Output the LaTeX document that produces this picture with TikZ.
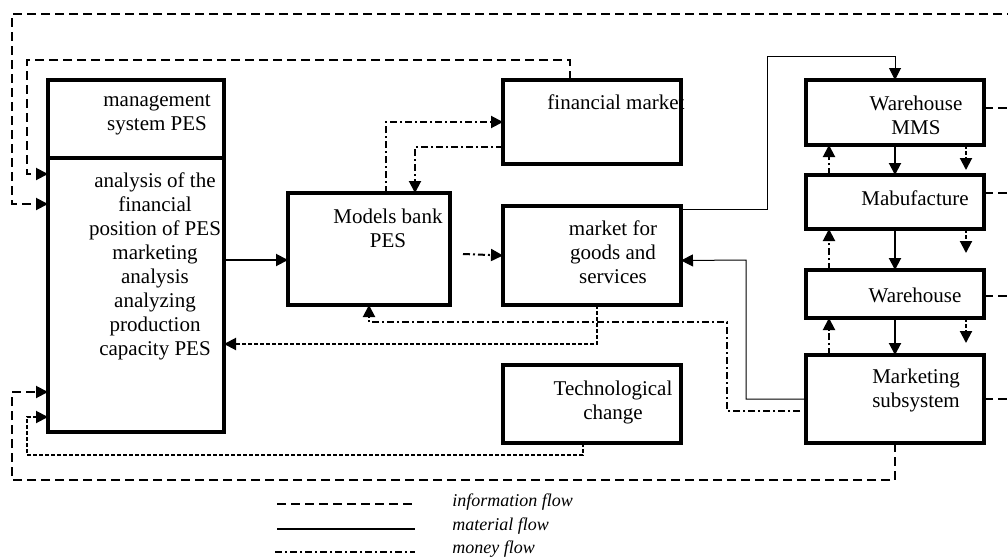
\documentclass[tikz,border=0pt]{standalone}
\usepackage{fontspec}
\setmainfont{Liberation Serif}
\usetikzlibrary{positioning,arrows.meta,calc}

\begin{document}
\begin{tikzpicture}[x=0.5pt, y=-0.5pt, node distance=15pt,
  box/.style={draw, line width=1.7pt, minimum width=89pt, anchor=north west, inner sep=0pt, outer sep=0pt},
  txt/.style={align=center, inner sep=0pt, font=\fontsize{10.5pt}{12pt}\selectfont},
  legtxt/.style={anchor=west, inner sep=0pt, font=\fontsize{9pt}{11pt}\selectfont\itshape},
  info/.style={line width=1pt, dash pattern=on 4.5pt off 2.5pt},
  infofine/.style={line width=1pt, dash pattern=on 2pt off 1pt},
  money/.style={line width=1pt, dash pattern=on 3.5pt off 1.5pt on 1pt off 1.5pt},
  mat/.style={line width=1pt},
  matthin/.style={line width=0.5pt},
  >={Triangle[length=6pt, width=6pt]}]
\useasboundingbox (0,0) rectangle (1008,558);
\node[box, minimum width=88pt, minimum height=39pt] (mgmt) at (48,80) {};
\node[box, minimum width=88pt, minimum height=137pt, below=0pt of mgmt] (anal) {};
\node[box, minimum width=81pt, minimum height=56pt] (bank) at (288,193) {};
\node[box, minimum height=42pt] (fin) at (503,80) {};
\node[box, minimum height=49.5pt] (goods) at (503,206) {};
\node[box, minimum height=39pt] (tech) at (503,365) {};
\node[box, minimum height=32.5pt] (whm) at (806,80) {};
\node[box, minimum height=27pt, below=15pt of whm] (manuf) {};
\node[box, minimum height=24pt, below=20.5pt of manuf] (wh) {};
\node[box, minimum height=44pt, below=18.5pt of wh] (mkt) {};
\node[txt] (mgmt-t) at (157,115) {management\\system PES};
\node[txt] (anal-t) at (155,266) {analysis of the\\financial\\position of PES\\marketing\\analysis\\analyzing\\production\\capacity PES};
\node[txt] (bank-t) at (388,228) {Models bank\\PES};
\node[txt] (fin-t) at (616,102) {financial market};
\node[txt] (goods-t) at (613,252) {market for\\goods and\\services};
\node[txt] (tech-t) at (613,402) {Technological\\change};
\node[txt] (whm-t) at (916,115) {Warehouse\\MMS};
\node[txt] (manuf-t) at (915,198) {Mabufacture};
\node[txt] (wh-t) at (915,295) {Warehouse};
\node[txt] (mkt-t) at (916,390) {Marketing\\subsystem};
\coordinate (bus) at (1016,14);
\draw[info] ($(whm.east)+(0,-5)$) -| (bus);
\draw[info] ($(manuf.east)+(0,-9)$) -| (bus);
\draw[info] ($(wh.east)+(0,2)$) -| (bus);
\draw[info] (mkt.east) -| (bus);
\draw[info,->] (bus) -- (12,14) |- ($(anal.north west)+(0,46)$);
\draw[info,->] ($(fin.north)+(-22,0)$) |- (27,60) |- ($(anal.north west)+(0,16)$);
\draw[info,->] (mkt.south) |- (12,480) |- ($(anal.south west)+(0,-40)$);
\draw[infofine,->] ($(tech.south)+(-9,0)$) |- (27,455) |- ($(anal.south west)+(0,-15)$);
\draw[infofine,->] ($(goods.south)+(5,0)$) |- ($(anal.south east)+(0,-88)$);
\draw[mat,->] ($(anal.east)+(0,-35)$) -- ($(bank.west)+(0,11)$);
\draw[matthin,->] ($(goods.north east)+(0,3)$) -| (767,56) -| (whm.north);
\draw[matthin,->] (mkt.west) -| (746,260) -- ($(goods.east)+(0,5)$);
\draw[mat,->] (whm) -- (manuf);
\draw[mat,->] (manuf) -- (wh);
\draw[mat,->] (wh) -- (mkt);
\draw[infofine,->] ($(whm.south)+(71,0)$) -- ($(manuf.north)+(71,-5)$);
\draw[infofine,->] ($(manuf.south)+(71,0)$) -- ($(wh.north)+(71,-17)$);
\draw[infofine,->] ($(wh.south)+(71,0)$) -- ($(mkt.north)+(71,-12)$);
\draw[money,->] ($(manuf.north)+(-66,0)$) -- ($(whm.south)+(-66,0)$);
\draw[money,->] ($(wh.north)+(-66,0)$) -- ($(manuf.south)+(-66,0)$);
\draw[money,->] ($(mkt.north)+(-66,0)$) -- ($(wh.south)+(-66,0)$);
\draw[money,->] ($(bank.east)+(13,5)$) -- (goods.west);
\draw[money,->] ($(bank.north)+(17,0)$) |- (fin.west);
\draw[money,->] ($(fin.west)+(0,25)$) -| ($(bank.north)+(46,0)$);
\draw[money,->] ($(mkt.west)+(-6,12)$) -| (727,322) -| (bank.south);
\coordinate (li1) at (277,504);
\coordinate (li2) at (415,504);
\coordinate (lm1) at (277,529);
\coordinate (lm2) at (415,529);
\coordinate (lo1) at (275,552);
\coordinate (lo2) at (415,552);
\draw[info] (li1) -- (li2);
\draw[mat] (lm1) -- (lm2);
\draw[money] (lo1) -- (lo2);
\node[legtxt] (li-t) at (452,502) {information flow};
\node[legtxt] (lm-t) at (452,526) {material flow};
\node[legtxt] (lo-t) at (452,549) {money flow};
\end{tikzpicture}
\end{document}
